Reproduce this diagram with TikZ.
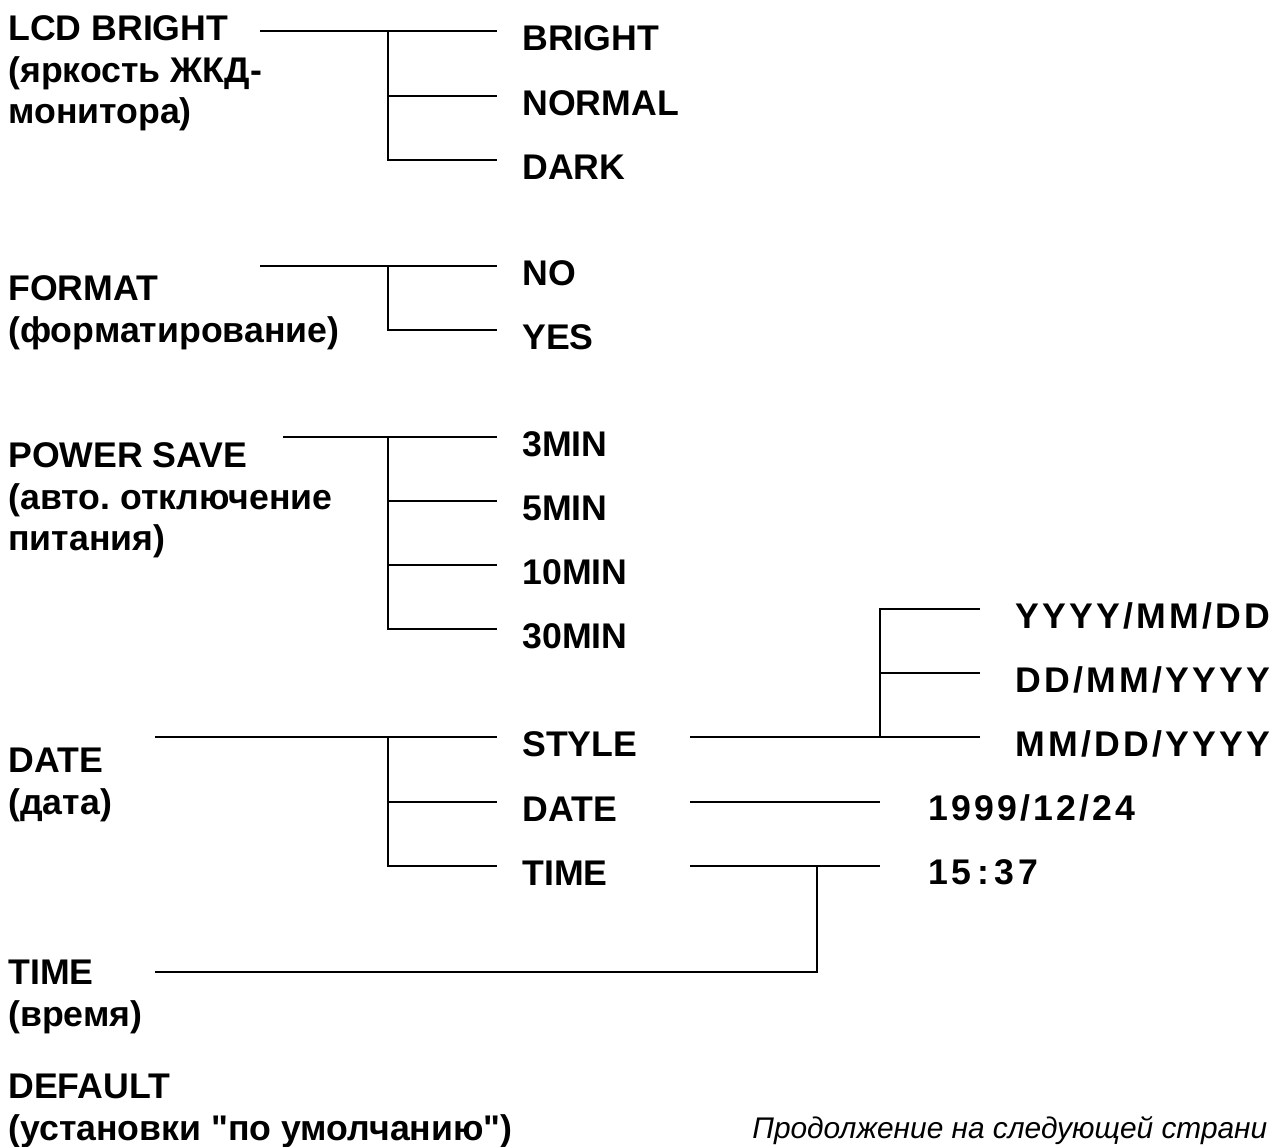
\documentclass[tikz,border=0pt]{standalone}
\usepackage{fontspec}
\setmainfont{Liberation Sans}[Ligatures=TeXOff]
\usetikzlibrary{calc}

\tikzset{
  head/.style={anchor=north west, inner sep=0pt, align=left,
    font=\bfseries\fontsize{20.3}{23.8}\selectfont},
  item/.style={anchor=west, inner sep=0pt,
    font=\bfseries\fontsize{20.3}{23.8}\selectfont},
  spaced/.style={item,
    font=\bfseries\fontsize{20.3}{23.8}\selectfont\addfontfeatures{LetterSpace=9}},
  link/.style={line width=1pt}
}

\begin{document}
\begin{tikzpicture}[x=0.02cm,y=-0.02cm]
  \useasboundingbox (0,0) rectangle (1274,1146);

  % LCD BRIGHT
  \coordinate (LcdS) at (260,31);
  \coordinate (LcdJ) at (388,31);
  \coordinate (Lcd1) at (497,31);
  \coordinate (Lcd2) at (497,96);
  \coordinate (Lcd3) at (497,160);

  \node[head] (LcdH) at (8,15) {LCD BRIGHT\\(яркость ЖКД-\\монитора)};
  \node[item] (Bright) at ($(Lcd1)+(25,7)$) {BRIGHT};
  \node[item] (Normal) at ($(Lcd2)+(25,7)$) {NORMAL};
  \node[item] (Dark) at ($(Lcd3)+(25,7)$) {DARK};

  \draw[link] (LcdS) -- (Lcd1);
  \draw[link] (LcdJ) |- (Lcd3);
  \draw[link] (LcdJ |- Lcd2) -- (Lcd2);

  % FORMAT
  \coordinate (FmtS) at (260,266);
  \coordinate (FmtJ) at (388,266);
  \coordinate (Fmt1) at (497,266);
  \coordinate (Fmt2) at (497,330);

  \node[head] (FmtH) at (8,275) {FORMAT\\(форматирование)};
  \node[item] (No) at ($(Fmt1)+(25,7)$) {NO};
  \node[item] (Yes) at ($(Fmt2)+(25,7)$) {YES};

  \draw[link] (FmtS) -- (Fmt1);
  \draw[link] (FmtJ) |- (Fmt2);

  % POWER SAVE
  \coordinate (PwrS) at (283,437);
  \coordinate (PwrJ) at (388,437);
  \coordinate (Pwr1) at (497,437);
  \coordinate (Pwr2) at (497,501);
  \coordinate (Pwr3) at (497,565);
  \coordinate (Pwr4) at (497,629);

  \node[head] (PwrH) at (8,442) {POWER SAVE\\(авто.\ отключение\\питания)};
  \node[item] (MinA) at ($(Pwr1)+(25,7)$) {3MIN};
  \node[item] (MinB) at ($(Pwr2)+(25,7)$) {5MIN};
  \node[item] (MinC) at ($(Pwr3)+(25,7)$) {10MIN};
  \node[item] (MinD) at ($(Pwr4)+(25,7)$) {30MIN};

  \draw[link] (PwrS) -- (Pwr1);
  \draw[link] (PwrJ) |- (Pwr4);
  \draw[link] (PwrJ |- Pwr2) -- (Pwr2);
  \draw[link] (PwrJ |- Pwr3) -- (Pwr3);

  % DATE
  \coordinate (DatS) at (155,737);
  \coordinate (DatJ) at (388,737);
  \coordinate (Dat1) at (497,737);
  \coordinate (Dat2) at (497,802);
  \coordinate (Dat3) at (497,866);

  \node[head] (DatH) at (8,748) {DATE\\(дата)};
  \node[item] (Style) at ($(Dat1)+(25,7)$) {STYLE};
  \node[item] (Date) at ($(Dat2)+(25,7)$) {DATE};
  \node[item] (Time) at ($(Dat3)+(25,7)$) {TIME};

  \draw[link] (DatS) -- (Dat1);
  \draw[link] (DatJ) |- (Dat3);
  \draw[link] (DatJ |- Dat2) -- (Dat2);

  % STYLE / DATE / TIME settings
  \coordinate (StyS) at (690,737);
  \coordinate (StyJ) at (880,737);
  \coordinate (Sty1) at (980,609);
  \coordinate (Sty2) at (980,673);
  \coordinate (Sty3) at (980,737);
  \coordinate (DsS) at (690,802);
  \coordinate (DsE) at (880,802);
  \coordinate (TsS) at (690,866);
  \coordinate (TsJ) at (817,866);
  \coordinate (TsE) at (880,866);

  \node[spaced] (Ymd) at ($(Sty1)+(35,7)$) {YYYY/MM/DD};
  \node[spaced] (Dmy) at ($(Sty2)+(35,7)$) {DD/MM/YYYY};
  \node[spaced] (Mdy) at ($(Sty3)+(35,7)$) {MM/DD/YYYY};
  \node[spaced] (DateVal) at ($(DsE)+(48,6)$) {1999/12/24};
  \node[spaced] (TimeVal) at ($(TsE)+(48,6)$) {15\,:\,37};

  \draw[link] (StyS) -- (Sty3);
  \draw[link] (StyJ) |- (Sty1);
  \draw[link] (StyJ |- Sty2) -- (Sty2);
  \draw[link] (DsS) -- (DsE);
  \draw[link] (TsS) -- (TsE);

  % TIME
  \coordinate (TimS) at (155,972);
  \node[head] (TimH) at (8,960) {TIME\\(время)};
  \draw[link] (TimS) -| (TsJ);

  % DEFAULT
  \node[head] (DefH) at (8,1074) {DEFAULT\\(установки "по умолчанию")};

  \node[anchor=base west, inner sep=0pt, font=\itshape\fontsize{17}{20}\selectfont]
    (More) at (752,1138) {Продолжение на следующей страни};
\end{tikzpicture}
\end{document}
